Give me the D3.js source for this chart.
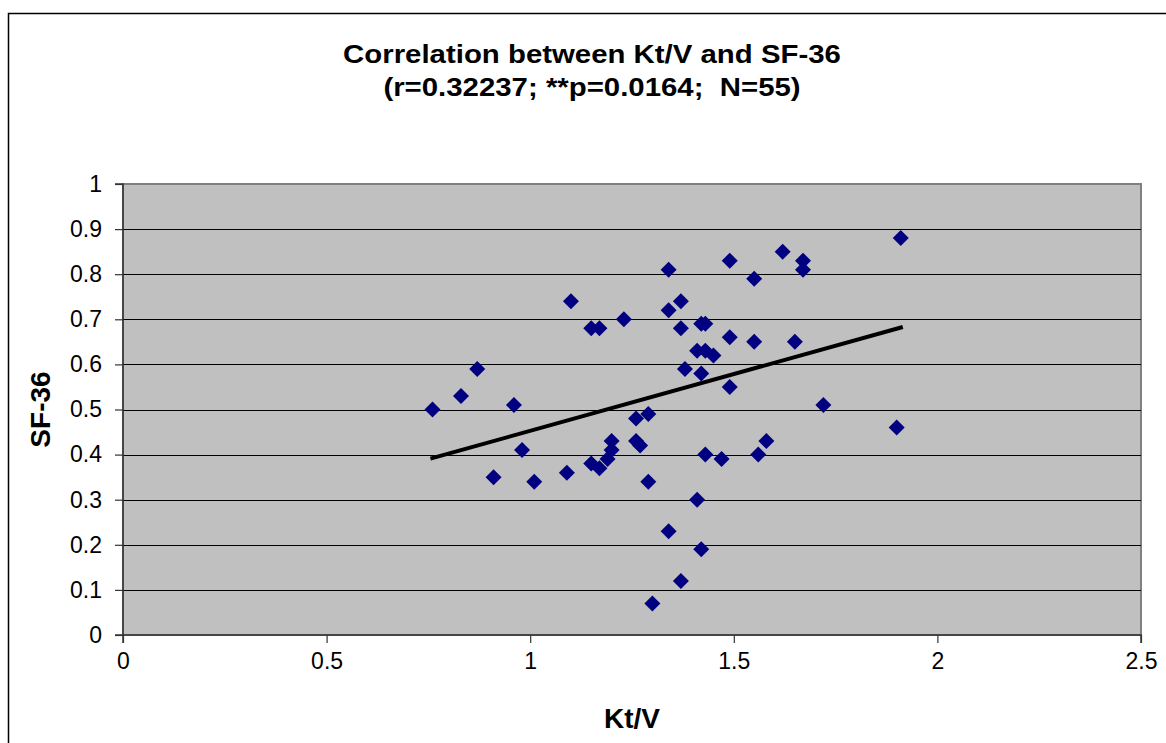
<!DOCTYPE html>
<html>
<head>
<meta charset="utf-8">
<script src="https://cdn.jsdelivr.net/npm/d3@7/dist/d3.min.js"></script>
<style>
  html, body { margin: 0; padding: 0; background: #ffffff; }
  svg { display: block; }
  text { font-family: "Liberation Sans", Arial, sans-serif; }
</style>
</head>
<body>
<svg id="chart" width="1166" height="743"></svg>
<script>
// ---- data ----
const ktv = [0.76, 0.83, 0.87, 0.91, 0.96, 0.98, 1.01, 1.09, 1.10, 1.15,
             1.17, 1.23, 1.15, 1.17, 1.19, 1.20, 1.20, 1.26, 1.29, 1.26,
             1.27, 1.29, 1.30, 1.34, 1.34, 1.34, 1.37, 1.37, 1.37, 1.38,
             1.41, 1.41, 1.42, 1.42, 1.42, 1.43, 1.43, 1.43, 1.45, 1.47,
             1.49, 1.49, 1.49, 1.55, 1.55, 1.56, 1.58, 1.62, 1.65, 1.67,
             1.67, 1.72, 1.90, 1.91];
const sf36 = [0.50, 0.53, 0.59, 0.35, 0.51, 0.41, 0.34, 0.36, 0.74, 0.68,
              0.68, 0.70, 0.38, 0.37, 0.39, 0.41, 0.43, 0.48, 0.49, 0.43,
              0.42, 0.34, 0.07, 0.81, 0.72, 0.23, 0.74, 0.68, 0.12, 0.59,
              0.63, 0.30, 0.69, 0.58, 0.19, 0.69, 0.63, 0.40, 0.62, 0.39,
              0.83, 0.66, 0.55, 0.79, 0.65, 0.40, 0.43, 0.85, 0.65, 0.83,
              0.81, 0.51, 0.46, 0.88];
const trendX = [0.755, 1.915];
const trendY = [0.391, 0.683];
const xTicks = [0, 0.5, 1, 1.5, 2, 2.5];
const xTickLabels = ["0", "0.5", "1", "1.5", "2", "2.5"];
const yTicks = [0, 0.1, 0.2, 0.3, 0.4, 0.5, 0.6, 0.7, 0.8, 0.9, 1];
const yTickLabels = ["0", "0.1", "0.2", "0.3", "0.4", "0.5", "0.6", "0.7", "0.8", "0.9", "1"];
const titleLines = ["Correlation between Kt/V and SF-36", "(r=0.32237; **p=0.0164;  N=55)"];
const xTitle = "Kt/V";
const yTitle = "SF-36";

// ---- layout ----
const svg = d3.select("#chart");
const L = 123, R = 1141, T = 184, B = 635;
const x = d3.scaleLinear().domain([0, 2.5]).range([L, R]);
const y = d3.scaleLinear().domain([0, 1]).range([B, T]);

// outer chart border
svg.append("rect")
  .attr("x", 8.5).attr("y", 13.5)
  .attr("width", 1180).attr("height", 760)
  .attr("fill", "#ffffff").attr("stroke", "#000000").attr("stroke-width", 1.5);

// plot area
svg.append("rect")
  .attr("x", L).attr("y", T).attr("width", R - L).attr("height", B - T)
  .attr("fill", "#c0c0c0").attr("stroke", "#808080").attr("stroke-width", 2);

// gridlines
svg.append("g").selectAll("line")
  .data(yTicks.filter(d => d > 0 && d < 1))
  .join("line")
  .attr("x1", L).attr("x2", R)
  .attr("y1", d => Math.round(y(d)) + 0.5).attr("y2", d => Math.round(y(d)) + 0.5)
  .attr("stroke", "#000000").attr("stroke-width", 1.2);

// axes
const yAxis = d3.axisLeft(y).tickValues(yTicks)
  .tickFormat((d, i) => yTickLabels[i]).tickSize(8).tickPadding(13);
const gy = svg.append("g").attr("transform", `translate(${L},0)`).call(yAxis);
const xAxis = d3.axisBottom(x).tickValues(xTicks)
  .tickFormat((d, i) => xTickLabels[i]).tickSize(8).tickPadding(10);
const gx = svg.append("g").attr("transform", `translate(0,${B})`).call(xAxis);

[gx, gy].forEach(g => {
  g.select(".domain").attr("stroke", "#333333").attr("stroke-width", 1.5);
  g.selectAll(".tick line").attr("stroke", "#333333").attr("stroke-width", 1.2);
  g.selectAll(".tick text").attr("fill", "#000000")
    .style("font-size", "23px").style("font-family", '"Liberation Sans", Arial, sans-serif');
});
gy.select(".domain").attr("d", `M-8,${T}H0V${B}H-8`);
gx.select(".domain").attr("d", `M${L},8V0H${R}V8`);
gx.selectAll(".tick text").attr("dy", "0.71em");

// trend line
svg.append("line")
  .attr("x1", x(trendX[0])).attr("y1", y(trendY[0]))
  .attr("x2", x(trendX[1])).attr("y2", y(trendY[1]))
  .attr("stroke", "#000000").attr("stroke-width", 4);

// points (diamonds)
const pts = ktv.map((v, i) => ({ x: v, y: sf36[i] }));
svg.append("g").selectAll("path")
  .data(pts)
  .join("path")
  .attr("d", "M0,-8L8,0L0,8L-8,0Z")
  .attr("transform", d => `translate(${x(d.x)},${y(d.y)})`)
  .attr("fill", "#000080");

// titles
const tg = svg.append("g").attr("transform", "translate(592,0)");
titleLines.forEach((t, i) => {
  tg.append("text")
    .attr("transform", `translate(0,${i === 0 ? 63 : 96}) scale(1.13,1)`)
    .attr("text-anchor", "middle")
    .attr("xml:space", "preserve")
    .style("white-space", "pre")
    .style("font-size", "26px").style("font-weight", "bold")
    .text(t);
});

svg.append("text")
  .attr("x", (L + R) / 2).attr("y", 728)
  .attr("text-anchor", "middle")
  .style("font-size", "28px").style("font-weight", "bold")
  .text(xTitle);

svg.append("text")
  .attr("transform", `translate(50,${(T + B) / 2}) rotate(-90)`)
  .attr("text-anchor", "middle")
  .style("font-size", "28px").style("font-weight", "bold")
  .text(yTitle);
</script>
</body>
</html>
